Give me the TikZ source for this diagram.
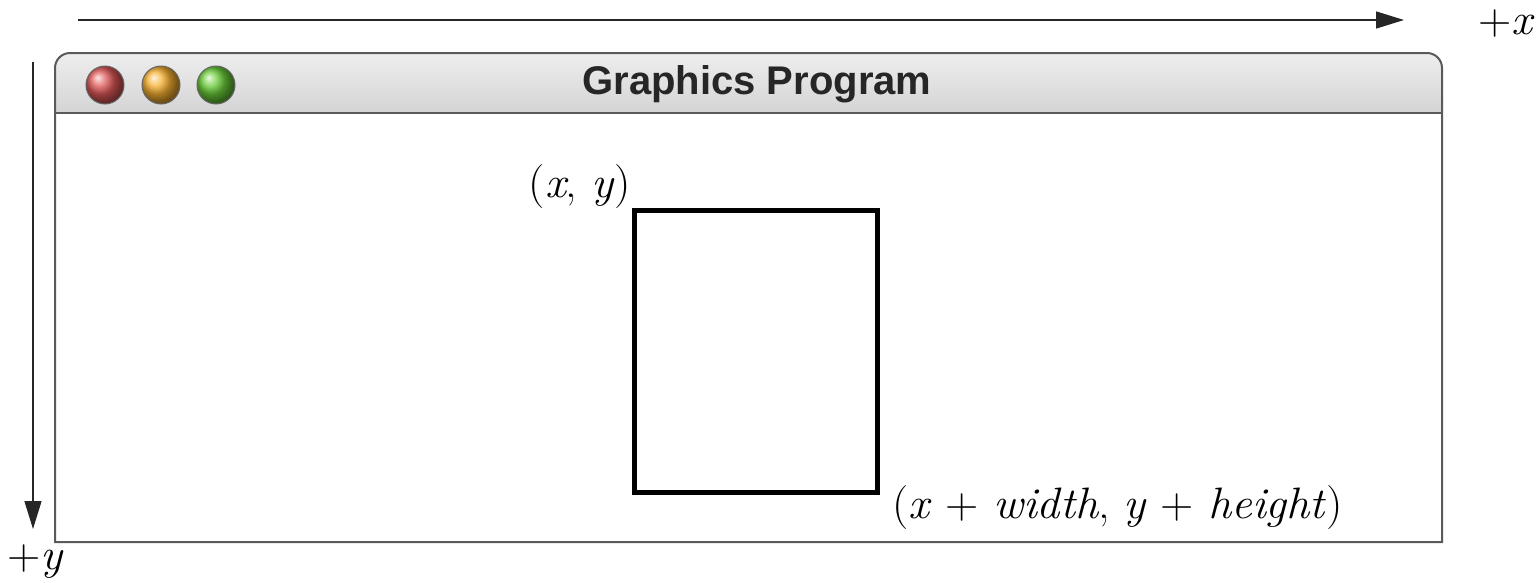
\documentclass[tikz,border=0pt]{standalone}
\usepackage{fontspec}
\setmainfont{Latin Modern Roman}
\newfontfamily\titlefont{Liberation Sans}
\usetikzlibrary{arrows.meta}
\definecolor{barTop}{HTML}{EEEEEE}
\definecolor{barBot}{HTML}{D4D4D4}
\definecolor{frame}{HTML}{5A5A5A}
\definecolor{lred}{HTML}{E05858}
\definecolor{lorange}{HTML}{F6B030}
\definecolor{lgreen}{HTML}{6ACC38}
\begin{document}
\begin{tikzpicture}[x=1pt,y=-1pt,
  axis/.style={line width=1.4pt,draw=black!85,-{Triangle[length=28pt,width=17pt]}},
  lbl/.style={font=\fontsize{44}{50}\selectfont,inner sep=0pt,xscale=1.05},
  light/.style={draw=black!60,line width=1pt}]
\useasboundingbox (0,0) rectangle (1538,582);
% axes
\coordinate (xs) at (78,20);
\coordinate (xe) at (1404,20);
\coordinate (ys) at (33,62);
\coordinate (ye) at (33,529);
\draw[axis] (xs) -- (xe);
\draw[axis] (ys) -- (ye);
\node[lbl] (px) at (1507,24) {+\textit{x}};
\node[lbl] (py) at (36,562) {+\textit{y}};
% window
\shade[top color=barTop,bottom color=barBot]
  (55,113) [rounded corners=15pt] -- (55,53) -- (1442,53) [sharp corners] -- (1442,113) -- cycle;
\draw[frame,line width=2pt]
  (1442,542) -- (55,542) -- (55,113) [rounded corners=15pt] -- (55,53) -- (1442,53) [sharp corners] -- (1442,113) -- cycle;
\draw[frame,line width=1.5pt] (55,113) -- (1442,113);
\shade[ball color=lred,light] (105,85) circle[radius=19];
\shade[ball color=lorange,light] (161,85) circle[radius=19];
\shade[ball color=lgreen,light] (216,85) circle[radius=19];
\node[font=\titlefont\bfseries\fontsize{40}{46}\selectfont,text=black!85,inner sep=0pt] (title) at (757,84) {Graphics Program};
% rectangle
\node[draw=black,line width=5pt,minimum width=243pt,minimum height=282pt,inner sep=0pt] (box) at (755.5,351) {};
\node[lbl,anchor=base] (tl) at (580,197) {(\textit{x}, \textit{y})};
\node[lbl,anchor=base west] (br) at (892,518) {(\textit{x} + \textit{width}, \textit{y} + \textit{height})};
\end{tikzpicture}
\end{document}
